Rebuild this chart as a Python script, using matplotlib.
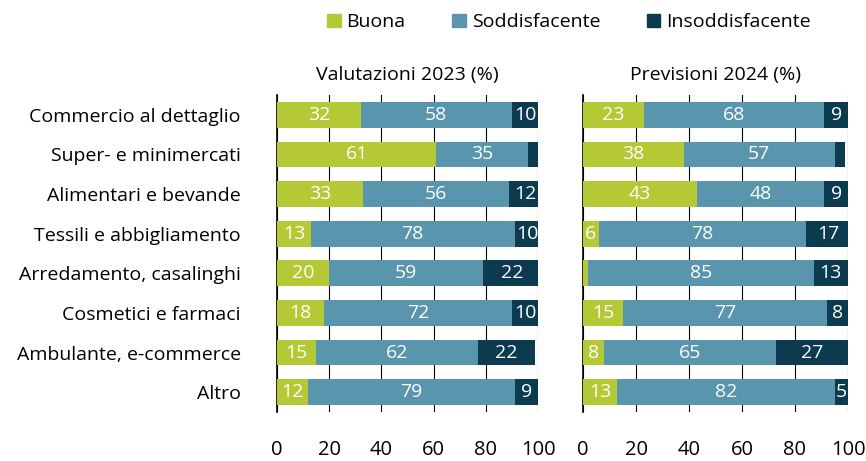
import numpy as np
import matplotlib.pyplot as plt
from matplotlib.patches import Patch

plt.rcParams['font.family'] = ['Open Sans', 'DejaVu Sans']

categories = ['Commercio al dettaglio', 'Super- e minimercati', 'Alimentari e bevande',
              'Tessili e abbigliamento', 'Arredamento, casalinghi', 'Cosmetici e farmaci',
              'Ambulante, e-commerce', 'Altro']
series = ['Buona', 'Soddisfacente', 'Insoddisfacente']

buona_2023 = [32, 61, 33, 13, 20, 18, 15, 12]
sodd_2023 = [58, 35, 56, 78, 59, 72, 62, 79]
insodd_2023 = [10, 4, 12, 10, 22, 10, 22, 9]

buona_2024 = [23, 38, 43, 6, 2, 15, 8, 13]
sodd_2024 = [68, 57, 48, 78, 85, 77, 65, 82]
insodd_2024 = [9, 4, 9, 17, 13, 8, 27, 5]

titles = ['Valutazioni 2023 (%)', 'Previsioni 2024 (%)']
colors = ['#b5c936', '#5a95ae', '#0c3a4f']

fig = plt.figure(figsize=(8.66, 4.61), dpi=100)
ax1 = fig.add_axes([277/866, 1-412/461, 261/866, 317/461])
ax2 = fig.add_axes([583/866, 1-412/461, 265/866, 317/461])

y = np.arange(len(categories))
for ax, data, title in [(ax1, [buona_2023, sodd_2023, insodd_2023], titles[0]),
                        (ax2, [buona_2024, sodd_2024, insodd_2024], titles[1])]:
    left = np.zeros(len(categories))
    for vals, col in zip(data, colors):
        vals = np.array(vals, dtype=float)
        bars = ax.barh(y, vals, left=left, height=0.65, color=col, zorder=3)
        for b, v in zip(bars, vals):
            if v >= 5:
                ax.text(b.get_x() + b.get_width()/2, b.get_y() + b.get_height()/2,
                        f'{int(v)}', ha='center', va='center', color='white',
                        fontsize=14, zorder=4)
        left += vals
    ax.set_xlim(0, 100)
    ax.set_ylim(len(categories) - 0.5, -0.5)
    ax.set_xticks([0, 20, 40, 60, 80, 100])
    ax.grid(axis='x', color='black', linewidth=0.8, zorder=0)
    for s in ['top', 'right', 'bottom']:
        ax.spines[s].set_visible(False)
    ax.spines['left'].set_linewidth(1.2)
    ax.tick_params(axis='x', length=0, pad=20, labelsize=14.5)
    ax.tick_params(axis='y', length=0)
    ax.set_title(title, fontsize=14, pad=11)

ax1.set_yticks(y)
ax1.set_yticklabels(categories, fontsize=14)
ax1.tick_params(axis='y', pad=26)
ax2.set_yticks([])

handles = [Patch(color=c) for c in colors]
fig.legend(handles, series, loc='center', bbox_to_anchor=(0.657, 0.952), ncol=3,
           frameon=False, fontsize=14, handlelength=0.7, handleheight=0.7,
           handletextpad=0.3, columnspacing=2.4)

fig.savefig('out.png', dpi=100)
